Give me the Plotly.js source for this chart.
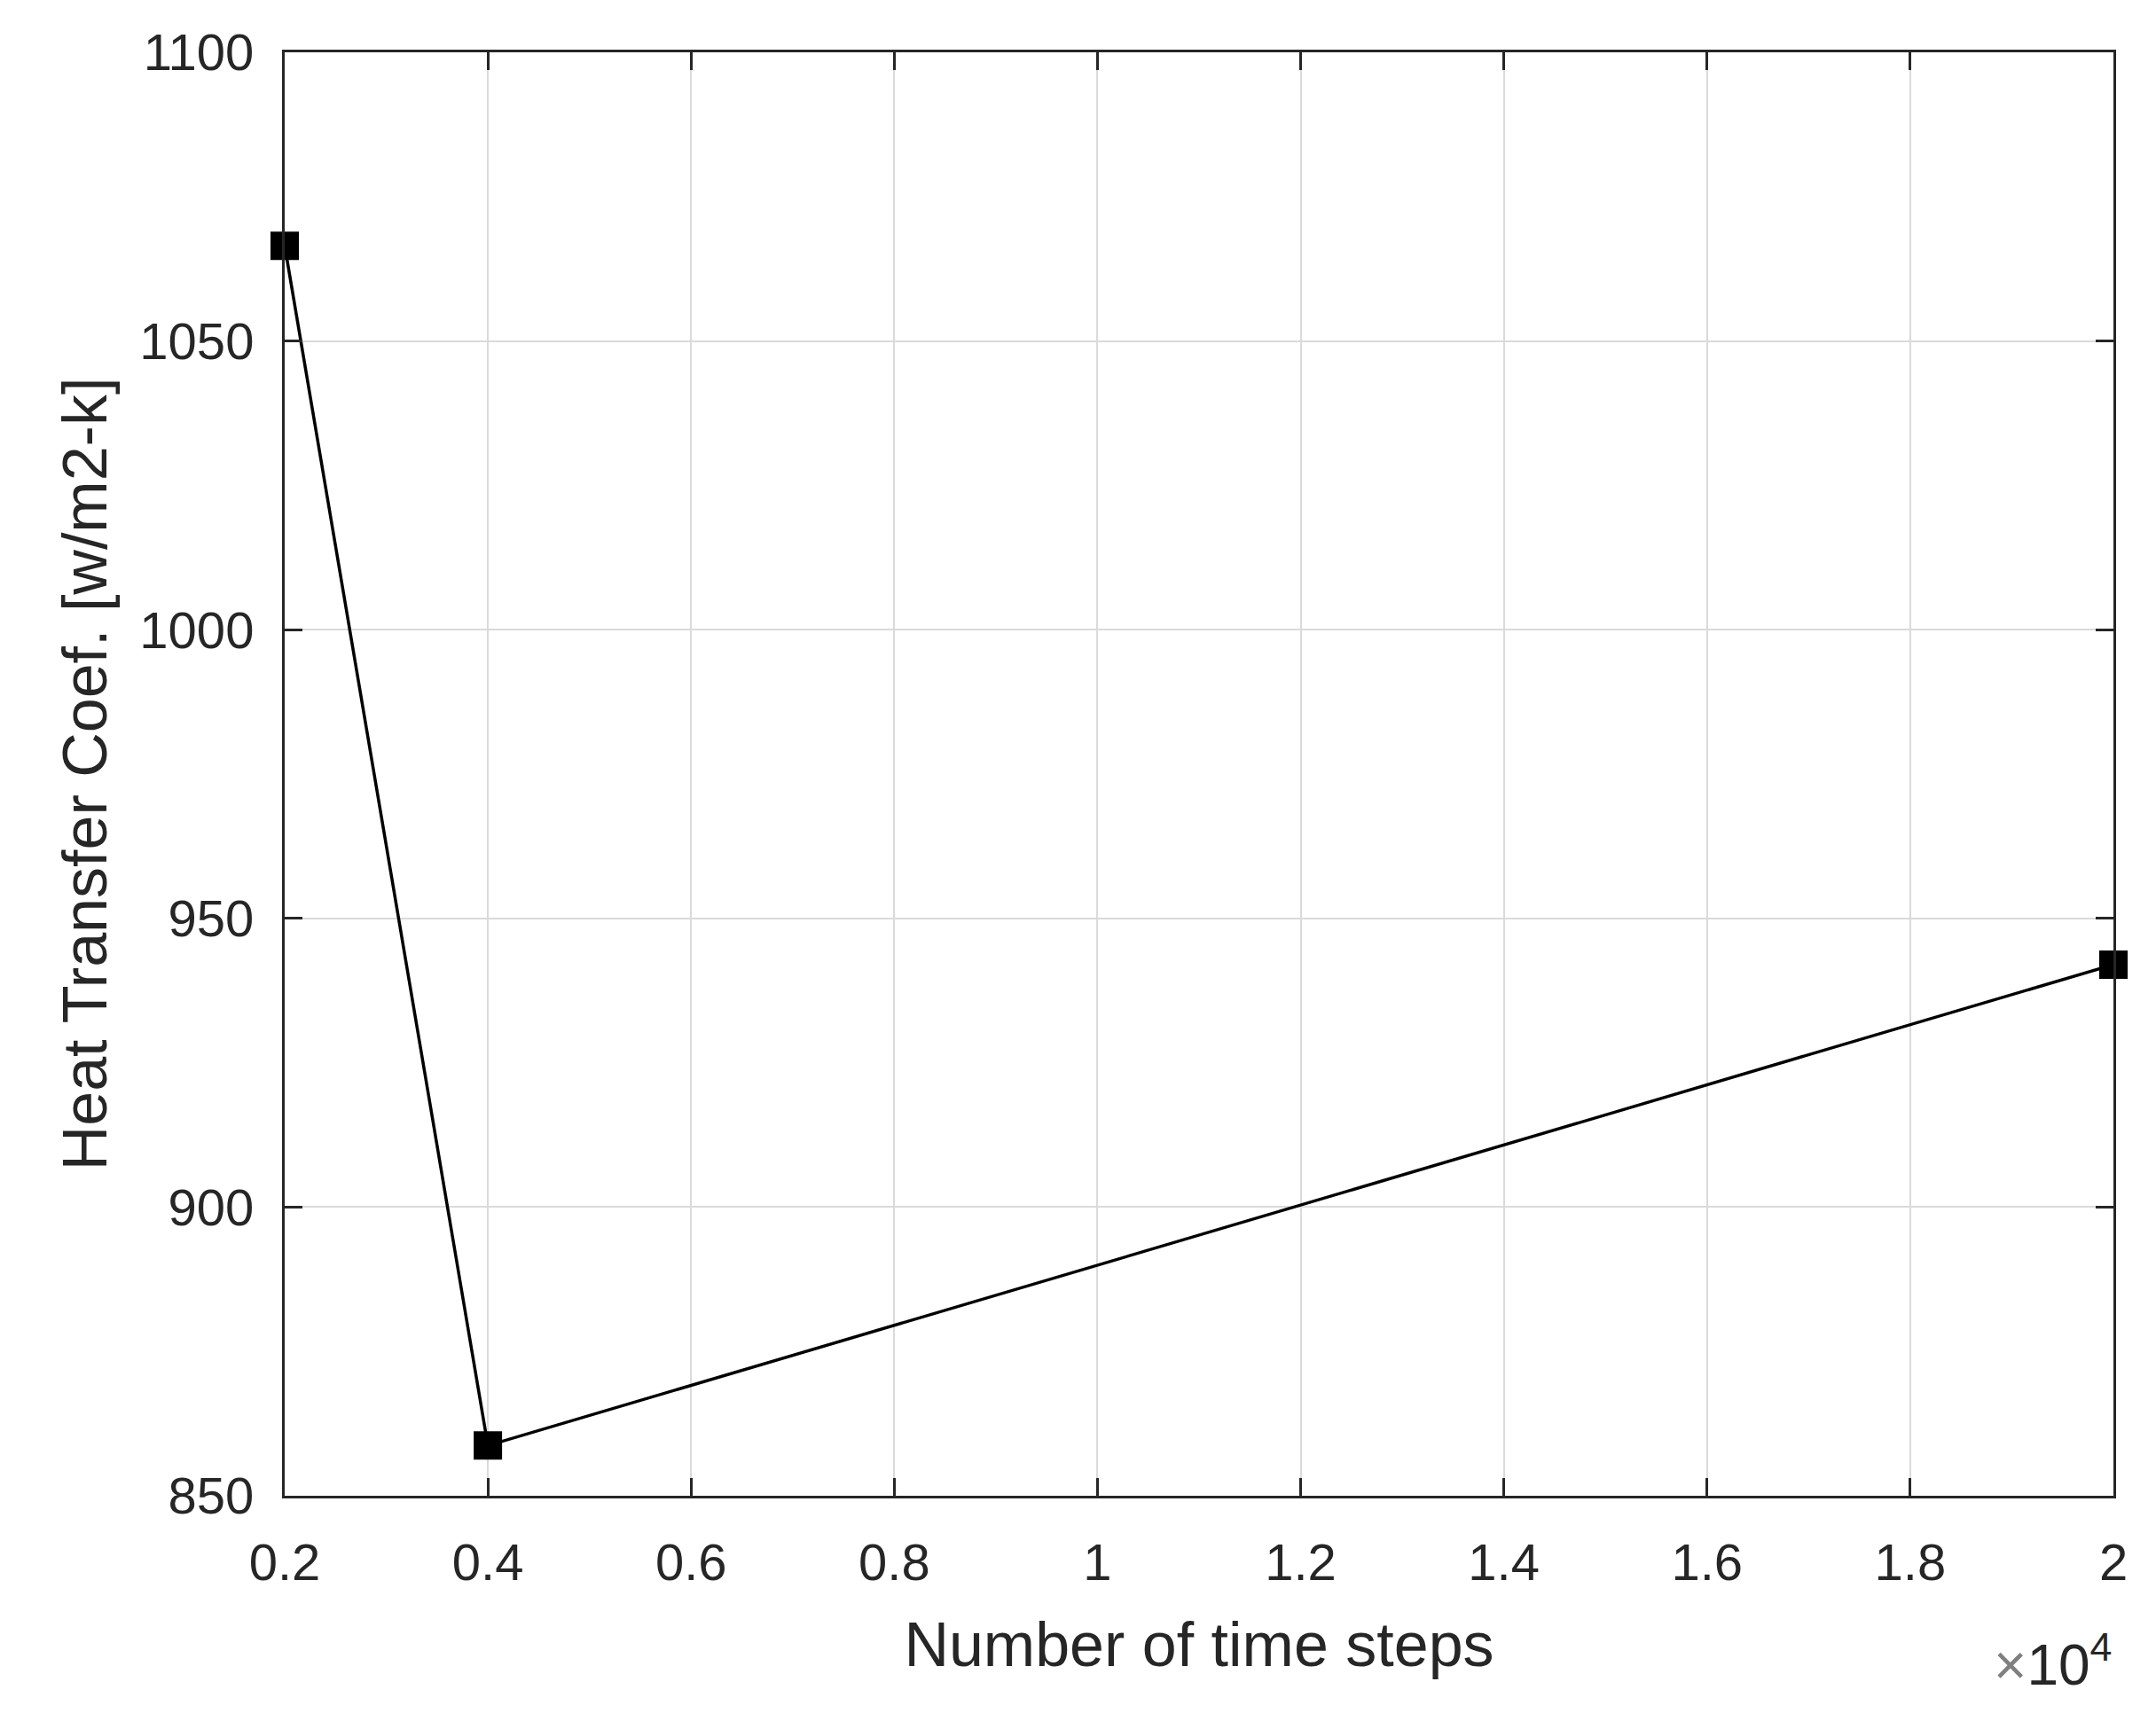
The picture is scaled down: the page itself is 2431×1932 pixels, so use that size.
<!DOCTYPE html>
<html>
<head>
<meta charset="utf-8">
<script src="https://cdn.plot.ly/plotly-3.0.1.min.js"></script>
<style>html,body{margin:0;padding:0;background:#fff;}</style>
</head>
<body>
<div id="chart" style="width:2431px;height:1932px;"></div>
<script>
// Data
const timeSteps = [2000, 4000, 20000];
const heatTransferCoef = [1066.5, 858.7, 942.0];
const xTickVals = [2000, 4000, 6000, 8000, 10000, 12000, 14000, 16000, 18000, 20000];
const xTickText = ["0.2", "0.4", "0.6", "0.8", "1", "1.2", "1.4", "1.6", "1.8", "2"];
const yTickVals = [850, 900, 950, 1000, 1050, 1100];
const yTickText = ["850", "900", "950", "1000", "1050", "1100"];

const axisColor = '#262626';
const fontFamily = 'Liberation Sans, Arial, sans-serif';

const trace = {
  x: timeSteps,
  y: heatTransferCoef,
  type: 'scatter',
  mode: 'lines+markers',
  line: {color: '#000000', width: 3.5},
  marker: {symbol: 'square', size: 32, color: '#000000'},
  cliponaxis: false,
  showlegend: false
};

const layout = {
  width: 2431,
  height: 1932,
  paper_bgcolor: '#ffffff',
  plot_bgcolor: '#ffffff',
  margin: {l: 321, r: 48, t: 59, b: 245, pad: 0},
  font: {family: fontFamily, color: axisColor, size: 58},
  xaxis: {
    range: [2000, 20000],
    tickmode: 'array',
    tickvals: xTickVals,
    ticktext: xTickText,
    ticks: 'inside',
    ticklen: 20,
    tickwidth: 3,
    tickcolor: axisColor,
    showline: true,
    linecolor: axisColor,
    linewidth: 3,
    mirror: 'ticks',
    showgrid: true,
    gridcolor: '#dadada',
    gridwidth: 2,
    zeroline: false,
    tickfont: {family: fontFamily, size: 58, color: axisColor},
    ticklabelstandoff: 22,
    automargin: false,
    title: {text: 'Number of time steps', font: {family: fontFamily, size: 70, color: axisColor}, standoff: 38}
  },
  yaxis: {
    range: [850, 1100],
    tickmode: 'array',
    tickvals: yTickVals,
    ticktext: yTickText,
    ticks: 'inside',
    ticklen: 20,
    tickwidth: 3,
    tickcolor: axisColor,
    showline: true,
    linecolor: axisColor,
    linewidth: 3,
    mirror: 'ticks',
    showgrid: true,
    gridcolor: '#dadada',
    gridwidth: 2,
    zeroline: false,
    tickfont: {family: fontFamily, size: 58, color: axisColor},
    ticklabelstandoff: 20,
    automargin: false,
    title: {text: 'Heat Transfer Coef. [w/m2-k]', font: {family: fontFamily, size: 70, color: axisColor}, standoff: 14}
  },
  annotations: [{
    xref: 'paper', yref: 'paper',
    x: 1.0, y: -0.088,
    xanchor: 'right', yanchor: 'top',
    text: '<span style="color:#7f7f7f">×</span>10<sup>4</sup>',
    showarrow: false,
    font: {family: fontFamily, size: 64, color: axisColor}
  }]
};

Plotly.newPlot('chart', [trace], layout, {displayModeBar: false, staticPlot: true});
</script>
</body>
</html>
